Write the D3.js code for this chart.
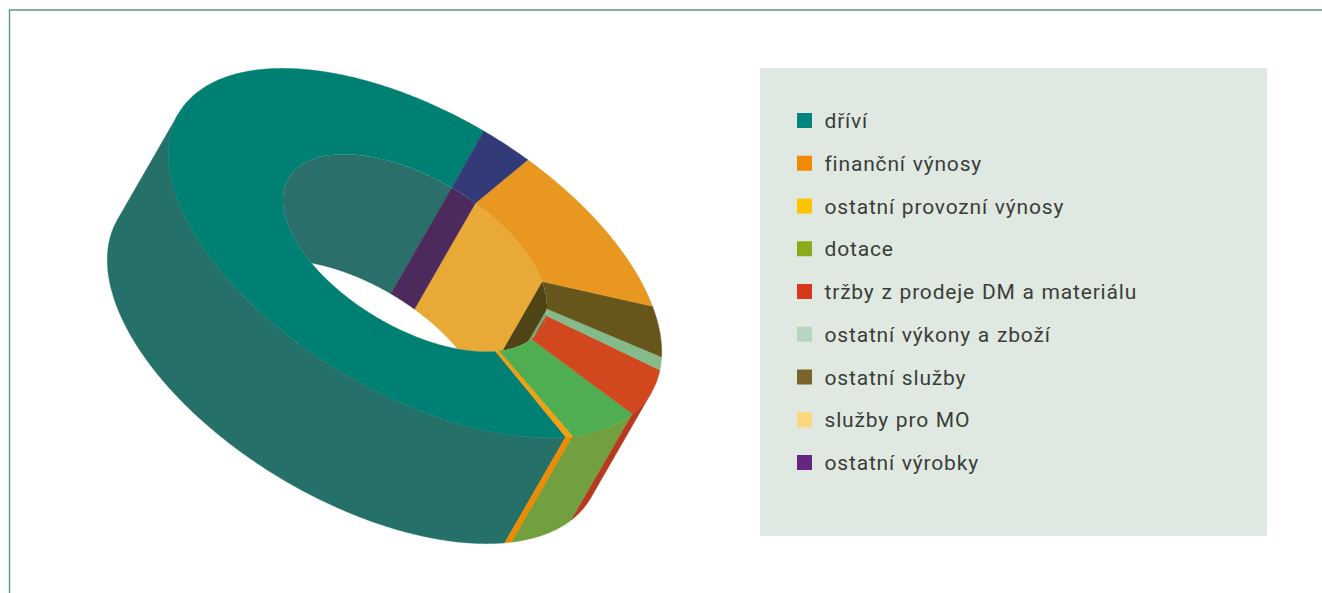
<!DOCTYPE html>
<html>
<head>
<meta charset="utf-8">
<script src="https://cdn.jsdelivr.net/npm/d3@7"></script>
<style>
  html, body { margin: 0; padding: 0; background: #fff; overflow: hidden; }
  svg { display: block; }
  .legend-label { font-family: Roboto, sans-serif; font-size: 21px; letter-spacing: 0.82px; word-spacing: 0.8px; fill: #3b3d39; }
</style>
</head>
<body>
<div id="chart"></div>
<script>
const categories = ['dříví', 'finanční výnosy', 'ostatní provozní výnosy', 'dotace', 'tržby z prodeje DM a materiálu', 'ostatní výkony a zboží', 'ostatní služby', 'služby pro MO', 'ostatní výrobky'];
const shares = [64.96, 0.58, 0.02, 6.11, 5.94, 1.39, 4.86, 13.08, 3.06];

const legendColors = ['#00857f', '#f18a00', '#ffc400', '#8cab19', '#d6381b', '#b9d5c0', '#7a6428', '#fdd77f', '#662483'];
const topColors = ['#007f73', '#f0a010', '#f0a010', '#4fae52', '#d1481f', '#85bb8a', '#66561c', '#e89820', '#333a78'];
const wallColors = ['#26706a', '#ee8c00', '#ee8c00', '#72a040', '#b83a1e', '#85bb8a', '#66561c', '#e89820', '#333a78'];
const innerColors = ['#2a6f6a', '#f0a010', '#f0a010', '#72a040', '#b83a1e', '#7aa870', '#4f4415', '#e8a936', '#4d2a5c'];

const width = 1322, height = 593;
const deg = Math.PI / 180;

// the ring is a flat disc seen at an angle: ellipse + extrusion vector
const cx = 415, cy = 253, rx = 274.5, ry = 140, tilt = 30.65 * deg;
const holeRatio = 0.535;
const extrude = [-61, 106];
const startAt = 269.4 * deg;

const ux = Math.cos(tilt), uy = Math.sin(tilt);
const project = (t, r) => {
  const a = rx * r * Math.cos(t), b = ry * r * Math.sin(t);
  return [cx + a * ux - b * uy, cy + a * uy + b * ux];
};
const shift = p => [p[0] + extrude[0], p[1] + extrude[1]];
const sample = (t0, t1) => {
  const n = Math.max(2, Math.ceil(Math.abs(t1 - t0) / (0.5 * deg)));
  return d3.range(n + 1).map(i => t0 + (t1 - t0) * i / n);
};
const line = d3.line().curve(d3.curveLinear);

const svg = d3.select('#chart').append('svg').attr('width', width).attr('height', height);

// frame
svg.append('path')
  .attr('d', `M${width},10H9.5V${height}`)
  .attr('fill', 'none')
  .attr('stroke', '#569b82')
  .attr('stroke-width', 1.4);

const angle = d3.scaleLinear().domain([0, 2 * Math.PI]).range([startAt, startAt - 2 * Math.PI]);
const slices = d3.pie().sort(null).value(d => d)(shares).map((s, i) => ({
  i, t0: angle(s.endAngle), t1: angle(s.startAngle)
}));

// which part of a slice's wall faces us
const eu = extrude[0] * ux + extrude[1] * uy;
const ev = -extrude[0] * uy + extrude[1] * ux;
const tangent = Math.atan2(-eu / rx, ev / ry);
const overlap = (a, b, lo, hi) => d3.range(-2, 3).map(k => [
  Math.max(a, lo + k * 2 * Math.PI), Math.min(b, hi + k * 2 * Math.PI)
]).filter(d => d[1] > d[0]);

const wallPath = (a, b, r) => {
  const edge = sample(a, b).map(t => project(t, r));
  return line(edge.concat(edge.map(shift).reverse())) + 'Z';
};

svg.append('defs').append('clipPath').attr('id', 'hole')
  .append('path')
  .attr('d', line(sample(0, 2 * Math.PI).map(t => project(t, holeRatio))) + 'Z');

// outer wall
const outerWalls = svg.append('g');
slices.forEach(s => {
  overlap(s.t0, s.t1, tangent, tangent + Math.PI).forEach(([a, b]) => {
    outerWalls.append('path')
      .attr('d', wallPath(a, b, 1))
      .attr('fill', wallColors[s.i])
      .attr('stroke', wallColors[s.i])
      .attr('stroke-width', 0.4);
  });
});

// wall inside the hole, far side only
const innerWalls = svg.append('g').attr('clip-path', 'url(#hole)');
slices.forEach(s => {
  overlap(s.t0, s.t1, tangent + Math.PI, tangent + 2 * Math.PI).forEach(([a, b]) => {
    innerWalls.append('path')
      .attr('d', wallPath(a, b, holeRatio))
      .attr('fill', innerColors[s.i])
      .attr('stroke', innerColors[s.i])
      .attr('stroke-width', 0.4);
  });
});

// top face
svg.append('g').selectAll('path')
  .data(slices)
  .join('path')
  .attr('d', s => {
    const ts = sample(s.t0, s.t1);
    return line(ts.map(t => project(t, 1)).concat(ts.slice().reverse().map(t => project(t, holeRatio)))) + 'Z';
  })
  .attr('fill', s => topColors[s.i])
  .attr('stroke', s => topColors[s.i])
  .attr('stroke-width', 0.4);

// legend
svg.append('rect')
  .attr('x', 760).attr('y', 68)
  .attr('width', 507).attr('height', 468)
  .attr('fill', '#dfe9e1');

const rowY = d3.scalePoint().domain(categories).range([120.5, 462.5]);
const rows = svg.append('g').selectAll('g')
  .data(categories)
  .join('g')
  .attr('transform', d => `translate(797,${rowY(d)})`);

rows.append('rect')
  .attr('y', -7.5)
  .attr('width', 15).attr('height', 15)
  .attr('fill', (d, i) => legendColors[i]);

rows.append('text')
  .attr('class', 'legend-label')
  .attr('x', 27.5)
  .attr('y', 7.5)
  .text(d => d);
</script>
</body>
</html>
